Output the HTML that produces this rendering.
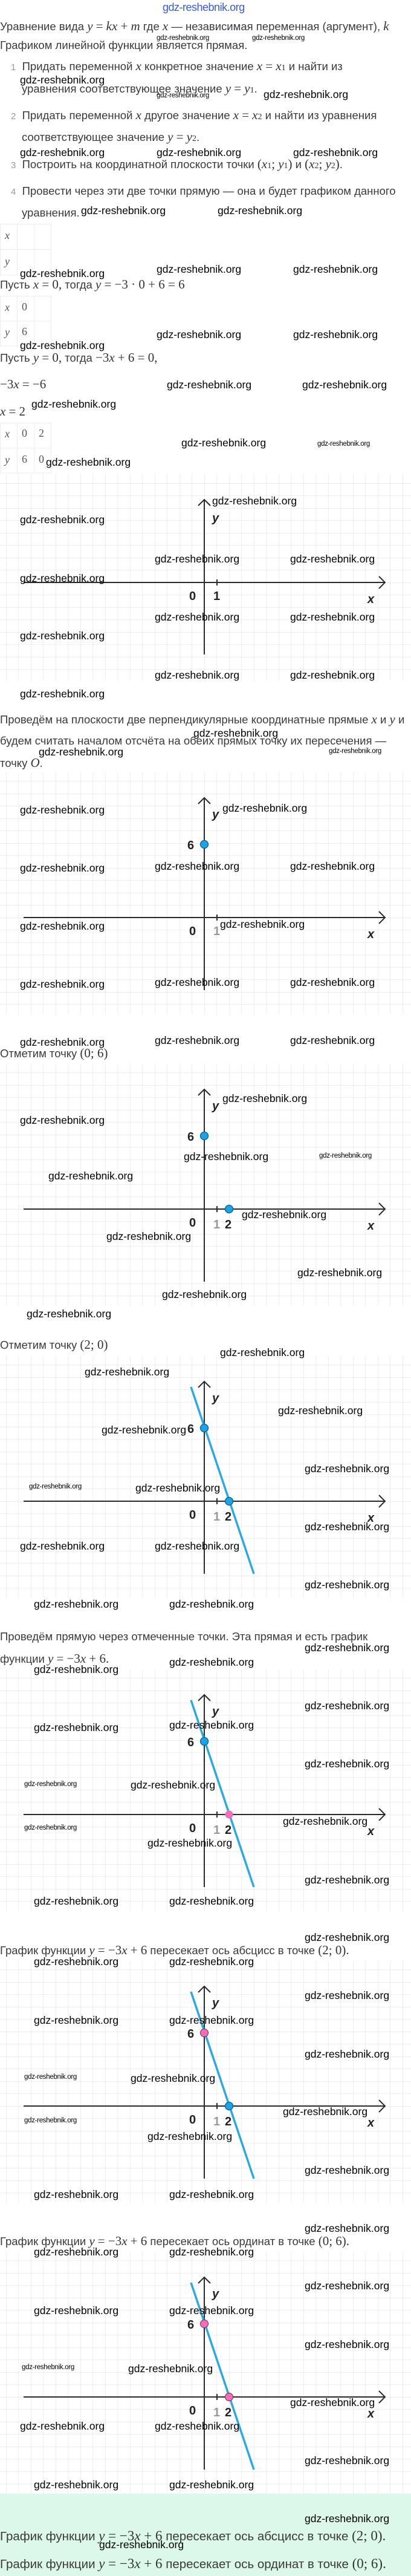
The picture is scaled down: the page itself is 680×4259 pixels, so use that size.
<!DOCTYPE html>
<html><head><meta charset="utf-8"><style>
body{margin:0;background:#fff;}
#p{position:relative;width:680px;height:4259px;overflow:hidden;background:#fff;font-family:"Liberation Sans",sans-serif;}
.a{position:absolute;white-space:nowrap;}
.w{position:absolute;white-space:nowrap;font-family:"Liberation Sans",sans-serif;font-size:17.5px;line-height:20px;color:#000;z-index:5;}
.s{position:absolute;white-space:nowrap;font-family:"Liberation Sans",sans-serif;font-size:11.5px;line-height:14px;color:#000;z-index:5;letter-spacing:-0.3px;}
.t{position:absolute;white-space:nowrap;font-size:18.5px;line-height:22px;color:#3a3a3a;}
.m{font-family:"Liberation Serif",serif;font-style:italic;font-size:21px;color:#333;}
.n{font-family:"Liberation Serif",serif;font-size:21px;color:#333;}
.sub{font-family:"Liberation Serif",serif;font-size:14px;color:#333;}
.num{color:#999;font-size:15px;}
.tm{position:absolute;font-family:"Liberation Serif",serif;font-size:18px;color:#555;}
svg{position:absolute;left:0;}
</style></head><body><div id="p">
<svg width="0" height="0"><defs>
<pattern id="g" patternUnits="userSpaceOnUse" width="20.5" height="20.5" x="10" y="14.5"><path d="M0 0H20.5M0 0V20.5" stroke="#e2e2e2" stroke-width="1.2" fill="none"/></pattern>
<pattern id="g1" patternUnits="userSpaceOnUse" width="20.5" height="20.5" x="10" y="16"><path d="M0 0H20.5M0 0V20.5" stroke="#e2e2e2" stroke-width="1.2" fill="none"/></pattern>
</defs></svg>

<div class="a" style="left:269px;top:2px;font-size:18px;color:#3b5bd6;letter-spacing:-0.5px;">gdz-reshebnik.org</div>

<div class="t" style="left:0;top:32px;">Уравнение вида <span class="m">y</span> <span class="n">=</span> <span class="m">kx</span> <span class="n">+</span> <span class="m">m</span> где <span class="m">x</span> — независимая переменная (аргумент), <span class="m">k</span></div>
<div class="t" style="left:0;top:64px;">Графиком линейной функции является прямая.</div>
<div class="s" style="left:259px;top:56px;">gdz-reshebnik.org</div>
<div class="s" style="left:417px;top:56px;">gdz-reshebnik.org</div>

<div class="t" style="left:18px;top:98px;"><span class="num">1</span>&nbsp;&nbsp;Придать переменной <span class="m">x</span> конкретное значение <span class="m">x</span> <span class="n">=</span> <span class="m">x</span><span class="sub">1</span> и найти из</div>
<div class="w" style="left:33px;top:122px;">gdz-reshebnik.org</div>
<div class="t" style="left:36px;top:135px;">уравнения соответствующее значение <span class="m">y</span> <span class="n">=</span> <span class="m">y</span><span class="sub">1</span>.</div>
<div class="s" style="left:259px;top:151px;">gdz-reshebnik.org</div>
<div class="w" style="left:436px;top:146px;">gdz-reshebnik.org</div>

<div class="t" style="left:18px;top:179px;"><span class="num">2</span>&nbsp;&nbsp;Придать переменной <span class="m">x</span> другое значение <span class="m">x</span> <span class="n">=</span> <span class="m">x</span><span class="sub">2</span> и найти из уравнения</div>
<div class="t" style="left:36px;top:215px;">соответствующее значение <span class="m">y</span> <span class="n">=</span> <span class="m">y</span><span class="sub">2</span>.</div>
<div class="w" style="left:33px;top:242px;">gdz-reshebnik.org</div>
<div class="w" style="left:259px;top:242px;">gdz-reshebnik.org</div>
<div class="w" style="left:485px;top:242px;">gdz-reshebnik.org</div>
<div class="t" style="left:18px;top:260px;"><span class="num">3</span>&nbsp;&nbsp;Построить на координатной плоскости точки <span class="n">(</span><span class="m">x</span><span class="sub">1</span><span class="n">;</span> <span class="m">y</span><span class="sub">1</span><span class="n">)</span> и <span class="n">(</span><span class="m">x</span><span class="sub">2</span><span class="n">;</span> <span class="m">y</span><span class="sub">2</span><span class="n">)</span>.</div>
<div class="t" style="left:18px;top:305px;"><span class="num">4</span>&nbsp;&nbsp;Провести через эти две точки прямую — она и будет графиком данного</div>
<div class="t" style="left:36px;top:341px;">уравнения.</div>
<div class="w" style="left:134px;top:338px;">gdz-reshebnik.org</div>
<div class="w" style="left:360px;top:338px;">gdz-reshebnik.org</div>

<!-- table 1 -->
<svg style="top:370px" width="90" height="86"><path d="M0 0.5H85M0 42.5H85M0 85H85M0.5 0V86M28.5 0V86M56.5 0V86M84.5 0V86" stroke="#ececec" fill="none"/></svg>
<div class="tm" style="left:8px;top:379px;font-style:italic;">x</div>
<div class="tm" style="left:8px;top:422px;font-style:italic;">y</div>
<div class="w" style="left:33px;top:442px;">gdz-reshebnik.org</div>
<div class="w" style="left:259px;top:435px;">gdz-reshebnik.org</div>
<div class="w" style="left:485px;top:435px;">gdz-reshebnik.org</div>
<div class="t" style="left:0;top:459px;">Пусть <span class="m">x</span> <span class="n">= 0,</span> тогда <span class="m">y</span> <span class="n">= −3 · 0 + 6 = 6</span></div>

<!-- table 2 -->
<svg style="top:489px" width="90" height="84"><path d="M0 0.5H85M0 42H85M0 83H85M0.5 0V84M28.5 0V84M56.5 0V84M84.5 0V84" stroke="#ececec" fill="none"/></svg>
<div class="tm" style="left:8px;top:498px;font-style:italic;">x</div><div class="tm" style="left:36px;top:497px;">0</div>
<div class="tm" style="left:8px;top:539px;font-style:italic;">y</div><div class="tm" style="left:36px;top:538px;">6</div>
<div class="w" style="left:259px;top:543px;">gdz-reshebnik.org</div>
<div class="w" style="left:485px;top:543px;">gdz-reshebnik.org</div>
<div class="w" style="left:33px;top:561px;">gdz-reshebnik.org</div>
<div class="t" style="left:0;top:580px;">Пусть <span class="m">y</span> <span class="n">= 0,</span> тогда <span class="n">−3</span><span class="m">x</span> <span class="n">+ 6 = 0,</span></div>
<div class="t" style="left:0;top:624px;"><span class="n">−3</span><span class="m">x</span> <span class="n">= −6</span></div>
<div class="w" style="left:276px;top:626px;">gdz-reshebnik.org</div>
<div class="w" style="left:500px;top:626px;">gdz-reshebnik.org</div>
<div class="t" style="left:0;top:669px;"><span class="m">x</span> <span class="n">= 2</span></div>
<div class="w" style="left:52px;top:658px;">gdz-reshebnik.org</div>

<!-- table 3 -->
<svg style="top:699px" width="90" height="84"><path d="M0 0.5H85M0 42H85M0 83H85M0.5 0V84M28.5 0V84M56.5 0V84M84.5 0V84" stroke="#ececec" fill="none"/></svg>
<div class="tm" style="left:8px;top:707px;font-style:italic;">x</div><div class="tm" style="left:36px;top:706px;">0</div><div class="tm" style="left:64px;top:706px;">2</div>
<div class="tm" style="left:8px;top:750px;font-style:italic;">y</div><div class="tm" style="left:36px;top:749px;">6</div><div class="tm" style="left:64px;top:749px;">0</div>
<div class="w" style="left:300px;top:722px;">gdz-reshebnik.org</div>
<div class="s" style="left:525px;top:727px;">gdz-reshebnik.org</div>
<div class="w" style="left:76px;top:754px;">gdz-reshebnik.org</div>

<!-- graph 1 -->
<svg style="top:783px" width="680" height="342">
<rect width="680" height="342" fill="url(#g1)"/>
<g stroke="#2a2a2a" stroke-width="2" fill="none">
<line x1="39" y1="180" x2="637" y2="180"/><polyline points="627,170 637,180 627,190"/>
<line x1="338" y1="43" x2="338" y2="299"/><polyline points="328,53 338,43 348,53"/>
<line x1="359" y1="175" x2="359" y2="185"/></g>
<g font-family="Liberation Sans,sans-serif" font-weight="bold" font-size="20" fill="#222">
<text x="313" y="209">0</text><text x="353" y="209">1</text>
<text x="608" y="214" font-style="italic">x</text><text x="351" y="80" font-style="italic">y</text></g>
</svg>
<div class="w" style="left:351px;top:818px;">gdz-reshebnik.org</div>
<div class="w" style="left:33px;top:849px;">gdz-reshebnik.org</div>
<div class="w" style="left:256px;top:914px;">gdz-reshebnik.org</div>
<div class="w" style="left:480px;top:914px;">gdz-reshebnik.org</div>
<div class="w" style="left:33px;top:946px;">gdz-reshebnik.org</div>
<div class="w" style="left:256px;top:1010px;">gdz-reshebnik.org</div>
<div class="w" style="left:480px;top:1010px;">gdz-reshebnik.org</div>
<div class="w" style="left:33px;top:1041px;">gdz-reshebnik.org</div>
<div class="w" style="left:256px;top:1106px;">gdz-reshebnik.org</div>
<div class="w" style="left:480px;top:1106px;">gdz-reshebnik.org</div>
<div class="w" style="left:33px;top:1137px;">gdz-reshebnik.org</div>

<div class="t" style="left:0;top:1178px;">Проведём на плоскости две перпендикулярные координатные прямые <span class="m">x</span> и <span class="m">y</span> и</div>
<div class="t" style="left:0;top:1214px;">будем считать началом отсчёта на обеих прямых точку их пересечения —</div>
<div class="t" style="left:0;top:1250px;">точку <span class="m">O</span>.</div>
<div class="w" style="left:320px;top:1202px;">gdz-reshebnik.org</div>
<div class="w" style="left:64px;top:1233px;">gdz-reshebnik.org</div>
<div class="s" style="left:544px;top:1235px;">gdz-reshebnik.org</div>

<!-- graph 2 -->
<svg style="top:1277px" width="680" height="400">
<rect width="680" height="400" fill="url(#g)"/>
<g stroke="#2a2a2a" stroke-width="2" fill="none">
<line x1="39" y1="240" x2="637" y2="240"/><polyline points="627,230 637,240 627,250"/>
<line x1="338" y1="42" x2="338" y2="360"/><polyline points="328,52 338,42 348,52"/>
<line x1="359" y1="235" x2="359" y2="245"/></g>
<g font-family="Liberation Sans,sans-serif" font-weight="bold" font-size="20" fill="#222">
<text x="313" y="269">0</text><text x="353" y="269" fill="#999">1</text><text x="310" y="127">6</text>
<text x="608" y="274" font-style="italic">x</text><text x="351" y="76" font-style="italic">y</text></g>
<circle cx="338" cy="119" r="6.5" fill="#1ba3e6" stroke="#0b5f93" stroke-width="1.3"/>
</svg>
<div class="w" style="left:33px;top:1329px;">gdz-reshebnik.org</div>
<div class="w" style="left:368px;top:1326px;">gdz-reshebnik.org</div>
<div class="w" style="left:33px;top:1425px;">gdz-reshebnik.org</div>
<div class="w" style="left:256px;top:1422px;">gdz-reshebnik.org</div>
<div class="w" style="left:480px;top:1422px;">gdz-reshebnik.org</div>
<div class="w" style="left:33px;top:1521px;">gdz-reshebnik.org</div>
<div class="w" style="left:364px;top:1518px;">gdz-reshebnik.org</div>
<div class="w" style="left:33px;top:1617px;">gdz-reshebnik.org</div>
<div class="w" style="left:256px;top:1614px;">gdz-reshebnik.org</div>
<div class="w" style="left:480px;top:1614px;">gdz-reshebnik.org</div>
<div class="w" style="left:33px;top:1713px;">gdz-reshebnik.org</div>
<div class="w" style="left:256px;top:1710px;">gdz-reshebnik.org</div>
<div class="w" style="left:480px;top:1710px;">gdz-reshebnik.org</div>
<div class="t" style="left:0;top:1730px;">Отметим точку <span class="n">(0; 6)</span></div>

<!-- graph 3 -->
<svg style="top:1759px" width="680" height="400">
<rect width="680" height="400" fill="url(#g)"/>
<g stroke="#2a2a2a" stroke-width="2" fill="none">
<line x1="39" y1="240" x2="637" y2="240"/><polyline points="627,230 637,240 627,250"/>
<line x1="338" y1="42" x2="338" y2="360"/><polyline points="328,52 338,42 348,52"/>
<line x1="359" y1="235" x2="359" y2="245"/></g>
<g font-family="Liberation Sans,sans-serif" font-weight="bold" font-size="20" fill="#222">
<text x="313" y="269">0</text><text x="353" y="272" fill="#999">1</text><text x="372" y="272">2</text><text x="310" y="127">6</text>
<text x="608" y="274" font-style="italic">x</text><text x="351" y="76" font-style="italic">y</text></g>
<circle cx="338" cy="119" r="6.5" fill="#1ba3e6" stroke="#0b5f93" stroke-width="1.3"/>
<circle cx="379" cy="240" r="6.5" fill="#1ba3e6" stroke="#0b5f93" stroke-width="1.3"/>
</svg>
<div class="w" style="left:368px;top:1806px;">gdz-reshebnik.org</div>
<div class="w" style="left:33px;top:1842px;">gdz-reshebnik.org</div>
<div class="w" style="left:304px;top:1902px;">gdz-reshebnik.org</div>
<div class="s" style="left:528px;top:1904px;">gdz-reshebnik.org</div>
<div class="w" style="left:80px;top:1934px;">gdz-reshebnik.org</div>
<div class="w" style="left:400px;top:1998px;">gdz-reshebnik.org</div>
<div class="w" style="left:176px;top:2034px;">gdz-reshebnik.org</div>
<div class="w" style="left:492px;top:2094px;">gdz-reshebnik.org</div>
<div class="w" style="left:268px;top:2130px;">gdz-reshebnik.org</div>
<div class="w" style="left:44px;top:2162px;">gdz-reshebnik.org</div>
<div class="t" style="left:0;top:2212px;">Отметим точку <span class="n">(2; 0)</span></div>
<div class="w" style="left:364px;top:2226px;">gdz-reshebnik.org</div>

<!-- graph 4 -->
<svg style="top:2242px" width="680" height="400">
<rect width="680" height="400" fill="url(#g)"/>
<g stroke="#2a2a2a" stroke-width="2" fill="none">
<line x1="39" y1="240" x2="637" y2="240"/><polyline points="627,230 637,240 627,250"/>
<line x1="338" y1="42" x2="338" y2="360"/><polyline points="328,52 338,42 348,52"/>
<line x1="359" y1="235" x2="359" y2="245"/></g>
<line x1="316" y1="51" x2="420" y2="360" stroke="#2aa9e2" stroke-width="3.5"/>
<g font-family="Liberation Sans,sans-serif" font-weight="bold" font-size="20" fill="#222">
<text x="313" y="269">0</text><text x="353" y="272" fill="#999">1</text><text x="372" y="272">2</text><text x="310" y="127">6</text>
<text x="608" y="274" font-style="italic">x</text><text x="351" y="76" font-style="italic">y</text></g>
<circle cx="338" cy="119" r="6.5" fill="#1ba3e6" stroke="#0b5f93" stroke-width="1.3"/>
<circle cx="379" cy="240" r="6.5" fill="#1ba3e6" stroke="#0b5f93" stroke-width="1.3"/>
</svg>
<div class="w" style="left:140px;top:2258px;">gdz-reshebnik.org</div>
<div class="w" style="left:460px;top:2322px;">gdz-reshebnik.org</div>
<div class="w" style="left:168px;top:2354px;">gdz-reshebnik.org</div>
<div class="w" style="left:504px;top:2418px;">gdz-reshebnik.org</div>
<div class="s" style="left:48px;top:2451px;">gdz-reshebnik.org</div>
<div class="w" style="left:224px;top:2450px;">gdz-reshebnik.org</div>
<div class="w" style="left:504px;top:2514px;">gdz-reshebnik.org</div>
<div class="w" style="left:33px;top:2546px;">gdz-reshebnik.org</div>
<div class="w" style="left:256px;top:2546px;">gdz-reshebnik.org</div>
<div class="w" style="left:504px;top:2610px;">gdz-reshebnik.org</div>
<div class="w" style="left:56px;top:2642px;">gdz-reshebnik.org</div>
<div class="w" style="left:280px;top:2642px;">gdz-reshebnik.org</div>

<div class="t" style="left:0;top:2695px;">Проведём прямую через отмеченные точки. Эта прямая и есть график</div>
<div class="t" style="left:0;top:2731px;">функции <span class="m">y</span> <span class="n">= −3</span><span class="m">x</span> <span class="n">+ 6.</span></div>
<div class="w" style="left:504px;top:2714px;">gdz-reshebnik.org</div>
<div class="w" style="left:280px;top:2738px;">gdz-reshebnik.org</div>
<div class="w" style="left:56px;top:2750px;">gdz-reshebnik.org</div>

<!-- graph 5 -->
<svg style="top:2760px" width="680" height="400">
<rect width="680" height="400" fill="url(#g)"/>
<g stroke="#2a2a2a" stroke-width="2" fill="none">
<line x1="39" y1="240" x2="637" y2="240"/><polyline points="627,230 637,240 627,250"/>
<line x1="338" y1="42" x2="338" y2="360"/><polyline points="328,52 338,42 348,52"/>
<line x1="359" y1="235" x2="359" y2="245"/></g>
<line x1="316" y1="51" x2="420" y2="360" stroke="#2aa9e2" stroke-width="3.5"/>
<g font-family="Liberation Sans,sans-serif" font-weight="bold" font-size="20" fill="#222">
<text x="313" y="269">0</text><text x="353" y="272" fill="#999">1</text><text x="372" y="272">2</text><text x="310" y="127">6</text>
<text x="608" y="274" font-style="italic">x</text><text x="351" y="76" font-style="italic">y</text></g>
<circle cx="338" cy="119" r="6.5" fill="#1ba3e6" stroke="#0b5f93" stroke-width="1.3"/>
<circle cx="379" cy="240" r="6.5" fill="#f36db8"/>
</svg>
<div class="w" style="left:504px;top:2810px;">gdz-reshebnik.org</div>
<div class="w" style="left:56px;top:2846px;">gdz-reshebnik.org</div>
<div class="w" style="left:280px;top:2842px;">gdz-reshebnik.org</div>
<div class="w" style="left:504px;top:2906px;">gdz-reshebnik.org</div>
<div class="s" style="left:40px;top:2943px;">gdz-reshebnik.org</div>
<div class="w" style="left:216px;top:2941px;">gdz-reshebnik.org</div>
<div class="s" style="left:40px;top:3015px;">gdz-reshebnik.org</div>
<div class="w" style="left:468px;top:3001px;">gdz-reshebnik.org</div>
<div class="w" style="left:244px;top:3037px;">gdz-reshebnik.org</div>
<div class="w" style="left:504px;top:3098px;">gdz-reshebnik.org</div>
<div class="w" style="left:56px;top:3133px;">gdz-reshebnik.org</div>
<div class="w" style="left:280px;top:3133px;">gdz-reshebnik.org</div>

<div class="t" style="left:0;top:3213px;">График функции <span class="m">y</span> <span class="n">= −3</span><span class="m">x</span> <span class="n">+ 6</span> пересекает ось абсцисс в точке <span class="n">(2; 0).</span></div>
<div class="w" style="left:504px;top:3193px;">gdz-reshebnik.org</div>
<div class="w" style="left:56px;top:3233px;">gdz-reshebnik.org</div>
<div class="w" style="left:280px;top:3233px;">gdz-reshebnik.org</div>

<!-- graph 6 -->
<svg style="top:3242px" width="680" height="400">
<rect width="680" height="400" fill="url(#g)"/>
<g stroke="#2a2a2a" stroke-width="2" fill="none">
<line x1="39" y1="240" x2="637" y2="240"/><polyline points="627,230 637,240 627,250"/>
<line x1="338" y1="42" x2="338" y2="360"/><polyline points="328,52 338,42 348,52"/>
<line x1="359" y1="235" x2="359" y2="245"/></g>
<line x1="316" y1="51" x2="420" y2="360" stroke="#2aa9e2" stroke-width="3.5"/>
<g font-family="Liberation Sans,sans-serif" font-weight="bold" font-size="20" fill="#222">
<text x="313" y="269">0</text><text x="353" y="272" fill="#999">1</text><text x="372" y="272">2</text><text x="310" y="127">6</text>
<text x="608" y="274" font-style="italic">x</text><text x="351" y="76" font-style="italic">y</text></g>
<circle cx="338" cy="119" r="6.5" fill="#f36db8" stroke="#7a2a55" stroke-width="1"/>
<circle cx="379" cy="240" r="6.5" fill="#1ba3e6" stroke="#0b5f93" stroke-width="1.3"/>
</svg>
<div class="w" style="left:504px;top:3289px;">gdz-reshebnik.org</div>
<div class="w" style="left:56px;top:3330px;">gdz-reshebnik.org</div>
<div class="w" style="left:280px;top:3330px;">gdz-reshebnik.org</div>
<div class="w" style="left:504px;top:3386px;">gdz-reshebnik.org</div>
<div class="s" style="left:40px;top:3427px;">gdz-reshebnik.org</div>
<div class="w" style="left:216px;top:3426px;">gdz-reshebnik.org</div>
<div class="w" style="left:468px;top:3481px;">gdz-reshebnik.org</div>
<div class="s" style="left:40px;top:3499px;">gdz-reshebnik.org</div>
<div class="w" style="left:244px;top:3522px;">gdz-reshebnik.org</div>
<div class="w" style="left:504px;top:3578px;">gdz-reshebnik.org</div>
<div class="w" style="left:56px;top:3618px;">gdz-reshebnik.org</div>
<div class="w" style="left:280px;top:3618px;">gdz-reshebnik.org</div>

<div class="w" style="left:504px;top:3674px;">gdz-reshebnik.org</div>
<div class="t" style="left:0;top:3694px;">График функции <span class="m">y</span> <span class="n">= −3</span><span class="m">x</span> <span class="n">+ 6</span> пересекает ось ординат в точке <span class="n">(0; 6).</span></div>
<div class="w" style="left:56px;top:3713px;">gdz-reshebnik.org</div>
<div class="w" style="left:280px;top:3713px;">gdz-reshebnik.org</div>

<!-- graph 7 -->
<svg style="top:3723px" width="680" height="400">
<rect width="680" height="400" fill="url(#g)"/>
<g stroke="#2a2a2a" stroke-width="2" fill="none">
<line x1="39" y1="240" x2="637" y2="240"/><polyline points="627,230 637,240 627,250"/>
<line x1="338" y1="42" x2="338" y2="360"/><polyline points="328,52 338,42 348,52"/>
<line x1="359" y1="235" x2="359" y2="245"/></g>
<line x1="316" y1="51" x2="420" y2="360" stroke="#2aa9e2" stroke-width="3.5"/>
<g font-family="Liberation Sans,sans-serif" font-weight="bold" font-size="20" fill="#222">
<text x="313" y="269">0</text><text x="353" y="272" fill="#999">1</text><text x="372" y="272">2</text><text x="310" y="127">6</text>
<text x="608" y="274" font-style="italic">x</text><text x="351" y="76" font-style="italic">y</text></g>
<circle cx="338" cy="119" r="6.5" fill="#f36db8" stroke="#7a2a55" stroke-width="1"/>
<circle cx="379" cy="240" r="6.5" fill="#f36db8" stroke="#7a2a55" stroke-width="1"/>
</svg>
<div class="w" style="left:504px;top:3769px;">gdz-reshebnik.org</div>
<div class="w" style="left:56px;top:3810px;">gdz-reshebnik.org</div>
<div class="w" style="left:280px;top:3810px;">gdz-reshebnik.org</div>
<div class="w" style="left:504px;top:3866px;">gdz-reshebnik.org</div>
<div class="s" style="left:36px;top:3907px;">gdz-reshebnik.org</div>
<div class="w" style="left:212px;top:3906px;">gdz-reshebnik.org</div>
<div class="w" style="left:480px;top:3962px;">gdz-reshebnik.org</div>
<div class="w" style="left:33px;top:4001px;">gdz-reshebnik.org</div>
<div class="w" style="left:256px;top:4001px;">gdz-reshebnik.org</div>
<div class="w" style="left:504px;top:4058px;">gdz-reshebnik.org</div>
<div class="w" style="left:56px;top:4098px;">gdz-reshebnik.org</div>
<div class="w" style="left:280px;top:4098px;">gdz-reshebnik.org</div>

<!-- green box -->
<div class="a" style="left:0;top:4123px;width:680px;height:136px;background:#dbf8ea;"></div>
<div class="w" style="left:504px;top:4154px;">gdz-reshebnik.org</div>
<div class="t" style="left:0;top:4181px;font-size:20.5px;line-height:24px;">График функции <span class="m" style="font-size:23px">y</span> <span class="n" style="font-size:23px">= −3</span><span class="m" style="font-size:23px">x</span> <span class="n" style="font-size:23px">+ 6</span> пересекает ось абсцисс в точке <span class="n" style="font-size:23px">(2; 0).</span></div>
<div class="w" style="left:164px;top:4197px;">gdz-reshebnik.org</div>
<div class="t" style="left:0;top:4227px;font-size:20.5px;line-height:24px;">График функции <span class="m" style="font-size:23px">y</span> <span class="n" style="font-size:23px">= −3</span><span class="m" style="font-size:23px">x</span> <span class="n" style="font-size:23px">+ 6</span> пересекает ось ординат в точке <span class="n" style="font-size:23px">(0; 6).</span></div>
</div></body></html>
